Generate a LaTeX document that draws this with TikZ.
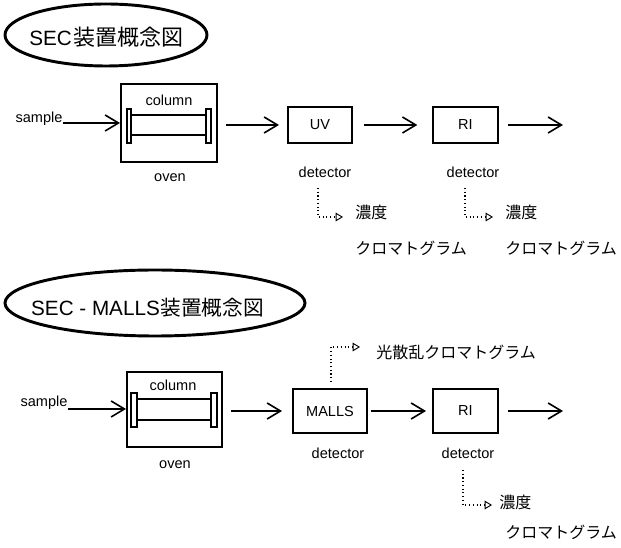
\documentclass[tikz,border=0pt]{standalone}
\usepackage{fontspec}
\setmainfont{Liberation Sans}
\newfontfamily\jp{Noto Sans CJK JP}
\usetikzlibrary{arrows.meta,shapes.geometric}
\begin{document}
\begin{tikzpicture}[x=0.75pt,y=-0.75pt,
 box/.style={draw, line width=1.5pt, inner sep=0pt},
 lbl/.style={font=\fontsize{10.9}{12}\selectfont, inner sep=0pt},
 jpl/.style={font=\jp\fontsize{12}{14}\selectfont, inner sep=0pt, anchor=west},
 flow/.style={line width=1.2pt, -{Straight Barb[length=10pt,width=12pt,line width=1.2pt]}},
 dotarrow/.style={dotted, line width=0.8pt, -{Triangle[open,length=5.5pt,width=6.5pt,line width=0.7pt]}},
 oval/.style={draw, ellipse, line width=2.2pt, inner sep=0pt},
 flange/.style={draw, line width=1.1pt},
 tube/.style={line width=1.1pt}
]
\useasboundingbox (0,0) rectangle (621,548);

% ---------- Title 1 ----------
\node[oval, minimum width=151.5pt, minimum height=46.5pt] (t1) at (106,35) {};
\node[inner sep=0pt] (t1text) at (106.5,37) {\fontsize{15.5}{18}\selectfont SEC\kern1.5pt\jp\fontsize{16.5}{18}\selectfont 装置概念図};

% ---------- Row 1 ----------
\node[box, minimum width=72pt, minimum height=58.5pt] (oven1) at (169,123) {};
\node[lbl] (col1) at (169,100) {column};
\node[lbl] (ovenlbl1) at (170,178) {oven};
\draw[flange] (127,109) rectangle (131,143);
\draw[flange] (206,109) rectangle (211,143);
\draw[tube] (131,115) -- (206,115);
\draw[tube] (131,135) -- (206,135);
\node[lbl] (samp1) at (39,119) {sample};
\coordinate (s1) at (63,123);
\draw[flow] (s1) -- (oven1.west |- s1);

\node[box, minimum width=48pt, minimum height=27pt, lbl] (uv) at (320,125) {UV};
\node[box, minimum width=48.75pt, minimum height=27pt, lbl] (ri1) at (465.5,125) {RI};
\coordinate (out1) at (563,125);
\draw[flow, shorten <=6pt, shorten >=6pt] (oven1.east |- uv) -- (uv.west);
\draw[flow, shorten <=8pt, shorten >=11pt] (uv.east) -- (ri1.west);
\draw[flow, shorten <=7pt] (ri1.east) -- (out1);
\node[lbl] (det1) at (325,172) {detector};
\node[lbl] (det2) at (473,172) {detector};

\coordinate (d1) at (318,188);
\node[jpl] (conc1) at (355,212) {濃度};
\node[jpl] (chrom1) at (355,248) {クロマトグラム};
\draw[dotarrow] (d1) -- (318,217) -- (343,217);

\coordinate (d2) at (465,188);
\node[jpl] (conc2) at (505,212) {濃度};
\node[jpl] (chrom2) at (505,248) {クロマトグラム};
\draw[dotarrow] (d2) -- (465,217) -- (493,217);

% ---------- Title 2 ----------
\node[oval, minimum width=225pt, minimum height=49.5pt] (t2) at (155,303) {};
\node[inner sep=0pt] (t2text) at (147.5,308) {\fontsize{15.5}{18}\selectfont SEC - MALLS\kern0.5pt\jp\fontsize{15.5}{18}\selectfont 装置概念図};

% ---------- Row 2 ----------
\node[box, minimum width=71.25pt, minimum height=56.25pt] (oven2) at (174.5,409.5) {};
\node[lbl] (col2) at (173,385) {column};
\node[lbl] (ovenlbl2) at (175,465) {oven};
\draw[flange] (131,393) rectangle (137,427);
\draw[flange] (211,393) rectangle (217,427);
\draw[tube] (137,399) -- (211,399);
\draw[tube] (137,420) -- (211,420);
\node[lbl] (samp2) at (44,403) {sample};
\coordinate (s2) at (68,409);
\draw[flow] (s2) -- (oven2.west |- s2);

\node[box, minimum width=55.5pt, minimum height=33pt, lbl] (malls) at (330,411) {MALLS};
\node[box, minimum width=48.75pt, minimum height=33pt, lbl] (ri2) at (465.5,411) {RI};
\coordinate (out2) at (563,411);
\draw[flow, shorten <=6pt, shorten >=7.5pt] (oven2.east |- malls) -- (malls.west);
\draw[flow, shorten <=2pt, shorten >=4.5pt] (malls.east) -- (ri2.west);
\draw[flow, shorten <=7pt] (ri2.east) -- (out2);
\node[lbl] (det3) at (338,453) {detector};
\node[lbl] (det4) at (468,453) {detector};

\coordinate (d3) at (331,382);
\node[jpl] (scat) at (376,352) {光散乱クロマトグラム};
\draw[dotarrow] (d3) -- (331,347) -- (360,347);

\coordinate (d4) at (463,470);
\node[jpl] (conc3) at (499,502) {濃度};
\node[jpl] (chrom3) at (505,532) {クロマトグラム};
\draw[dotarrow] (d4) -- (463,505) -- (492,505);
\end{tikzpicture}
\end{document}
